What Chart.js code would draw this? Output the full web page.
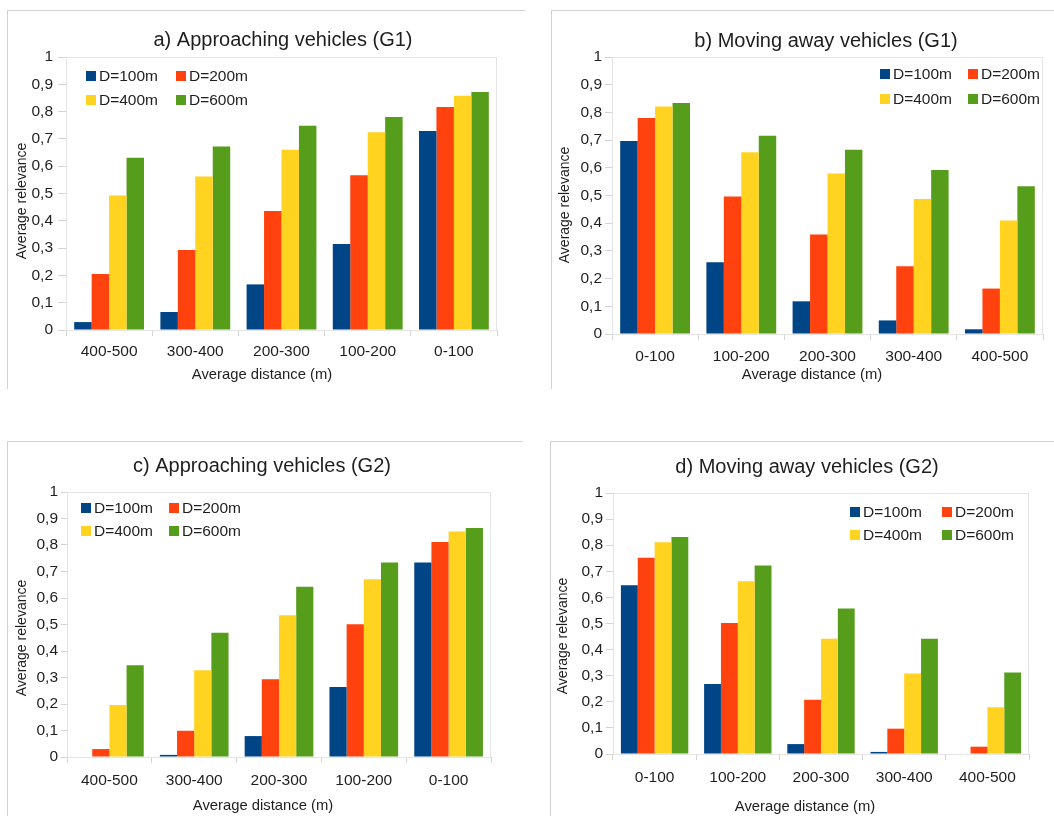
<!DOCTYPE html>
<html>
<head>
<meta charset="utf-8">
<script src="https://cdn.jsdelivr.net/npm/chart.js@4.4.1/dist/chart.umd.min.js"></script>
<style>
html,body{margin:0;padding:0;background:#ffffff;overflow:hidden;width:1054px;height:816px;}
.panel{position:absolute;border-left:1px solid #d2d2d2;border-top:1px solid #d2d2d2;box-sizing:border-box;}
canvas{position:absolute;}
</style>
</head>
<body>
<div class="panel" style="left:7px;top:10px;width:518px;height:379px"></div>
<div class="panel" style="left:551px;top:10px;width:503px;height:379px"></div>
<div class="panel" style="left:7px;top:441px;width:516px;height:375px"></div>
<div class="panel" style="left:550px;top:441px;width:504px;height:375px"></div>
<canvas id="chartA"></canvas>
<canvas id="chartB"></canvas>
<canvas id="chartC"></canvas>
<canvas id="chartD"></canvas>
<script>
// ---------- data ----------
const seriesNames = ['D=100m', 'D=200m', 'D=400m', 'D=600m'];
const approachCategories = ['400-500', '300-400', '200-300', '100-200', '0-100'];
const awayCategories = ['0-100', '100-200', '200-300', '300-400', '400-500'];
const yTickLabels = ['0', '0,1', '0,2', '0,3', '0,4', '0,5', '0,6', '0,7', '0,8', '0,9', '1'];
const xAxisTitle = 'Average distance (m)';
const yAxisTitle = 'Average relevance';

// a) Approaching vehicles (G1)
const approachG1_D100 = [0.029, 0.066, 0.167, 0.315, 0.729];
const approachG1_D200 = [0.205, 0.293, 0.436, 0.567, 0.817];
const approachG1_D400 = [0.493, 0.562, 0.660, 0.724, 0.858];
const approachG1_D600 = [0.631, 0.672, 0.748, 0.780, 0.872];

// b) Moving away vehicles (G1)
const awayG1_D100 = [0.697, 0.259, 0.118, 0.049, 0.017];
const awayG1_D200 = [0.780, 0.496, 0.359, 0.245, 0.164];
const awayG1_D400 = [0.821, 0.656, 0.579, 0.487, 0.410];
const awayG1_D600 = [0.834, 0.716, 0.665, 0.592, 0.533];

// c) Approaching vehicles (G2)
const approachG2_D100 = [0.000, 0.008, 0.079, 0.264, 0.734];
const approachG2_D200 = [0.030, 0.099, 0.293, 0.501, 0.811];
const approachG2_D400 = [0.196, 0.327, 0.535, 0.671, 0.851];
const approachG2_D600 = [0.346, 0.469, 0.642, 0.734, 0.864];

// d) Moving away vehicles (G2)
const awayG2_D100 = [0.647, 0.268, 0.038, 0.008, 0.000];
const awayG2_D200 = [0.752, 0.502, 0.208, 0.097, 0.028];
const awayG2_D400 = [0.811, 0.662, 0.442, 0.308, 0.179];
const awayG2_D600 = [0.831, 0.722, 0.557, 0.442, 0.312];

// ---------- style ----------
const FONT = '"Liberation Sans", Arial, sans-serif';
const TEXT = '#1e1e1e';
const COLORS = ['#004586', '#ff420e', '#ffd320', '#579d1c'];
const FRAME = '#e4e4e4';
const TICKC = '#d4d4d4';
const TITLE_SIZE = 20, TITLE_LH = 24;
const TICK_SIZE = 15.5, TICK_LH = 18.6;
const XT_SIZE = 14.8, YT_SIZE = 14;

const panels = [
  { id: 'chartA', title: 'a) Approaching vehicles (G1)', labels: approachCategories,
    series: [approachG1_D100, approachG1_D200, approachG1_D400, approachG1_D600],
    canvas: { x: 7, y: 10, w: 552, h: 380 }, plot: { l: 66, r: 497, t: 57, b: 330 },
    titleY: 40, xTickY: 352, xTitle: { x: 262, y: 375 }, yTick: 8, yLabelRight: 53, yTitle: { x: 22, y: 201 },
    legend: { x: 86, y: 76, dx: 90, dy: 24 } },
  { id: 'chartB', title: 'b) Moving away vehicles (G1)', labels: awayCategories,
    series: [awayG1_D100, awayG1_D200, awayG1_D400, awayG1_D600],
    canvas: { x: 553, y: 10, w: 546, h: 380 }, plot: { l: 612, r: 1043, t: 57, b: 334 },
    titleY: 41, xTickY: 357, xTitle: { x: 812, y: 375 }, yTick: 7, yLabelRight: 602, yTitle: { x: 565, y: 205 },
    legend: { x: 880, y: 74, dx: 88, dy: 25 } },
  { id: 'chartC', title: 'c) Approaching vehicles (G2)', labels: approachCategories,
    series: [approachG2_D100, approachG2_D200, approachG2_D400, approachG2_D600],
    canvas: { x: 7, y: 441, w: 510, h: 375 }, plot: { l: 67, r: 491, t: 492, b: 757 },
    titleY: 466, xTickY: 781, xTitle: { x: 263, y: 806 }, yTick: 6, yLabelRight: 58, yTitle: { x: 22, y: 638 },
    legend: { x: 81, y: 508, dx: 88, dy: 23 } },
  { id: 'chartD', title: 'd) Moving away vehicles (G2)', labels: awayCategories,
    series: [awayG2_D100, awayG2_D200, awayG2_D400, awayG2_D600],
    canvas: { x: 553, y: 441, w: 508, h: 375 }, plot: { l: 613, r: 1029, t: 493, b: 754 },
    titleY: 467, xTickY: 778, xTitle: { x: 805, y: 807 }, yTick: 7, yLabelRight: 603, yTitle: { x: 563, y: 636 },
    legend: { x: 850, y: 512, dx: 92, dy: 23 } }
];

const framePlugin = {
  id: 'plotFrame',
  afterDatasetsDraw(chart) {
    const a = chart.chartArea, ctx = chart.ctx;
    ctx.save();
    ctx.strokeStyle = FRAME;
    ctx.lineWidth = 1;
    ctx.strokeRect(Math.round(a.left) + 0.5, Math.round(a.top) + 0.5,
                   Math.round(a.right - a.left) - 1, Math.round(a.bottom - a.top));
    ctx.restore();
  }
};

function makeChart(p) {
  const cv = document.getElementById(p.id);
  const c = p.canvas;
  cv.width = c.w; cv.height = c.h;
  cv.style.left = c.x + 'px'; cv.style.top = c.y + 'px';
  cv.style.width = c.w + 'px'; cv.style.height = c.h + 'px';

  const titlePadTop = (p.titleY - c.y) - TITLE_LH / 2;
  const titlePadBottom = (p.plot.t - c.y) - titlePadTop - TITLE_LH;
  const xTickLen = 6;
  const xTickPad = (p.xTickY - p.plot.b) - xTickLen - TICK_LH / 2;
  const yTickPad = (p.plot.l - p.yLabelRight) - p.yTick;

  const overlayPlugin = {
    id: 'overlayText',
    afterDraw(chart) {
      const ctx = chart.ctx, L = p.legend;
      ctx.save();
      // legend (2 x 2 grid inside the plot area)
      ctx.font = TICK_SIZE + 'px ' + FONT;
      ctx.textBaseline = 'middle';
      ctx.textAlign = 'left';
      chart.data.datasets.forEach((ds, i) => {
        const col = i % 2, row = Math.floor(i / 2);
        const bx = L.x - c.x + col * L.dx;
        const by = L.y - c.y + row * L.dy;
        ctx.fillStyle = ds.backgroundColor;
        ctx.fillRect(bx, by - 5, 10, 10);
        ctx.fillStyle = TEXT;
        ctx.fillText(ds.label, bx + 13, by + 1);
      });
      // axis titles
      ctx.fillStyle = TEXT;
      ctx.textAlign = 'center';
      ctx.font = XT_SIZE + 'px ' + FONT;
      ctx.fillText(xAxisTitle, p.xTitle.x - c.x, p.xTitle.y - c.y);
      ctx.translate(p.yTitle.x - c.x, p.yTitle.y - c.y);
      ctx.rotate(-Math.PI / 2);
      ctx.font = YT_SIZE + 'px ' + FONT;
      ctx.fillText(yAxisTitle, 0, 0);
      ctx.restore();
    }
  };

  return new Chart(cv, {
    type: 'bar',
    data: {
      labels: p.labels,
      datasets: p.series.map((d, i) => ({
        label: seriesNames[i], data: d, backgroundColor: COLORS[i],
        borderWidth: 0, categoryPercentage: 0.81, barPercentage: 1.0
      }))
    },
    options: {
      responsive: false, animation: false, devicePixelRatio: 1,
      layout: { padding: 0 },
      plugins: {
        legend: { display: false },
        tooltip: { enabled: false },
        title: {
          display: true, text: p.title, color: TEXT,
          font: { family: FONT, size: TITLE_SIZE, weight: 'normal', lineHeight: 1.2 },
          padding: { top: titlePadTop, bottom: titlePadBottom }
        }
      },
      scales: {
        x: {
          type: 'category', position: 'bottom', offset: true,
          grid: { display: true, offset: true, drawOnChartArea: false, drawTicks: true, tickLength: xTickLen, color: TICKC },
          border: { display: false },
          ticks: { autoSkip: false, maxRotation: 0, padding: xTickPad, color: TEXT,
                   font: { family: FONT, size: TICK_SIZE, lineHeight: 1.2 } },
          title: { display: false },
          afterFit: s => { s.height = c.y + c.h - p.plot.b; }
        },
        y: {
          position: 'left', min: 0, max: 1,
          grid: { display: true, drawOnChartArea: false, drawTicks: true, tickLength: p.yTick, color: TICKC },
          border: { display: false },
          ticks: { stepSize: 0.1, padding: yTickPad, color: TEXT,
                   font: { family: FONT, size: TICK_SIZE, lineHeight: 1.2 },
                   callback: (v, i) => yTickLabels[i] },
          title: { display: false },
          afterFit: s => { s.width = p.plot.l - c.x; }
        },
        yRight: {
          position: 'right', display: true, min: 0, max: 1,
          grid: { display: false }, border: { display: false },
          ticks: { display: false },
          afterFit: s => { s.width = c.x + c.w - p.plot.r; }
        }
      }
    },
    plugins: [framePlugin, overlayPlugin]
  });
}

panels.forEach(makeChart);
</script>
</body>
</html>
